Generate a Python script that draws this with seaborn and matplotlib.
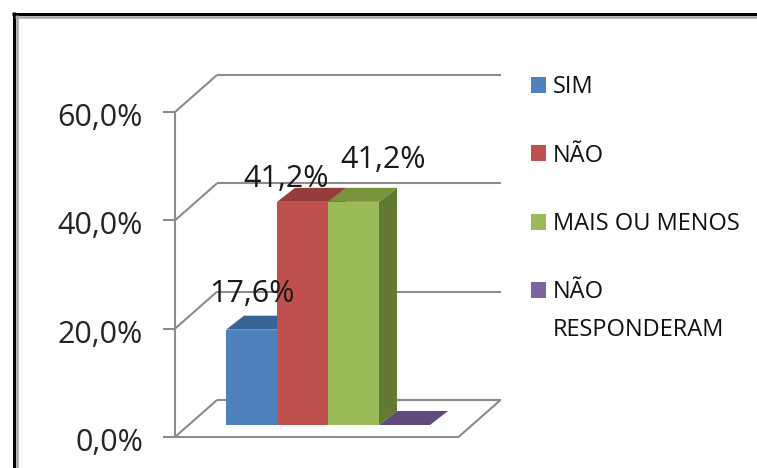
import textwrap

import matplotlib
matplotlib.use("Agg")
import matplotlib.pyplot as plt
import pandas as pd
import seaborn as sns
from matplotlib.lines import Line2D
from matplotlib.patches import Polygon, Rectangle
from matplotlib.transforms import IdentityTransform

# ---- data -------------------------------------------------------------
categories = ["SIM", "NÃO", "MAIS OU MENOS", "NÃO RESPONDERAM"]
shares = [0.176, 0.412, 0.412, 0.0]
value_labels = ["17,6%", "41,2%", "41,2%", ""]
y_ticks = [0.0, 0.2, 0.4, 0.6]
y_tick_labels = ["0,0%", "20,0%", "40,0%", "60,0%"]

# ---- styling ----------------------------------------------------------
front_colors = ["#4F81BD", "#C0504D", "#9BBB59", "#8064A2"]
top_colors = ["#3B6496", "#963D3B", "#77933C", "#5F4B7E"]
side_colors = ["#2F5079", "#7A302E", "#627A32", "#4C3C66"]
label_shift = [(0.5, 28), (-16.5, 15), (30, 34), (0, 0)]  # pixels (right, up)

W, H, DPI = 757, 468, 100
GRID = "#8c8c8c"
GRID_LW = 1.5

sns.set_theme(style="white")
plt.rcParams["font.family"] = ["Open Sans", "DejaVu Sans"]

fig = plt.figure(figsize=(W / DPI, H / DPI), dpi=DPI)
fig.patch.set_facecolor("white")

# axes holding the bar fronts (pixel box of the bar plane)
left_px, right_px, base_px, top_px = 188.5, 472.0, 425.0, 100.0
ax = fig.add_axes([left_px / W, (H - base_px) / H,
                   (right_px - left_px) / W, (base_px - top_px) / H])

df = pd.DataFrame({"resposta": categories, "percentual": shares})
sns.barplot(data=df, x="resposta", y="percentual", hue="resposta",
            palette=front_colors, saturation=1, width=1.0, legend=False,
            edgecolor="none", linewidth=0, ax=ax)

xmin = (left_px - 251.5) / 51.0
xmax = (right_px - 251.5) / 51.0
ax.set_xlim(xmin, xmax)
ax.set_ylim(0, 0.6)
ax.set_autoscale_on(False)
ax.axis("off")

ident = IdentityTransform()

# depth offsets in display pixels (x right, y up)
FRONT = (-13.5, -12.0)   # front edge of the floor / value axis plane
BACK = (28.5, 25.0)      # back wall plane
DEPTH = (18.0, 14.0)     # depth of each column


def px(x, y, off=(0.0, 0.0)):
    X, Y = ax.transData.transform((x, y))
    return X + off[0], Y + off[1]


def seg(p, q, color=GRID, lw=GRID_LW, z=1, host=None):
    line = Line2D([p[0], q[0]], [p[1], q[1]], color=color, lw=lw,
                  transform=ident, zorder=z, solid_capstyle="butt",
                  clip_on=False)
    if host is None:
        ax.add_artist(line)
    else:
        host.add_artist(line)


# walls: gridlines on the left and back walls, value axis with ticks
for t, lab in zip(y_ticks, y_tick_labels):
    f = px(xmin, t, FRONT)
    b = px(xmin, t, BACK)
    r = px(xmax, t, BACK)
    seg(f, b)
    seg(b, r)
    seg((f[0] - 12, f[1]), f)
    fig.text(f[0] - 32, f[1] - 14, lab, transform=ident, ha="right",
             va="baseline", fontsize=22, color="#262626")

seg(px(xmin, y_ticks[0], FRONT), px(xmin, y_ticks[-1], FRONT))
# floor outline
seg(px(xmin, 0, FRONT), px(xmax, 0, FRONT))
seg(px(xmax, 0, FRONT), px(xmax, 0, BACK))

# 3D faces for each column
for p in list(ax.patches):
    i = int(round(p.get_x() + p.get_width() / 2))
    x0, x1, h = p.get_x(), p.get_x() + p.get_width(), p.get_height()
    X0, Yh = px(x0, h)
    X1, _ = px(x1, h)
    _, Yb = px(x0, 0)
    dx, dy = DEPTH
    side = Polygon([(X1, Yb), (X1, Yh), (X1 + dx, Yh + dy), (X1 + dx, Yb + dy)],
                   closed=True, facecolor=side_colors[i], edgecolor="none",
                   transform=ident, zorder=2 + 2 * i, clip_on=False)
    top = Polygon([(X0, Yh), (X1, Yh), (X1 + dx, Yh + dy), (X0 + dx, Yh + dy)],
                  closed=True, facecolor=top_colors[i], edgecolor="none",
                  transform=ident, zorder=2 + 2 * i, clip_on=False)
    ax.add_artist(side)
    ax.add_artist(top)
    p.set_zorder(3 + 2 * i)
    p.set_clip_on(False)

# value labels
for i, (v, lab) in enumerate(zip(shares, value_labels)):
    if not lab:
        continue
    ax.annotate(lab, xy=(i, v), xytext=label_shift[i], textcoords="offset pixels",
                ha="center", va="baseline", fontsize=22, color="#1a1a1a",
                zorder=30, annotation_clip=False)

# legend
leg_x, leg_y0, leg_step, sq = 531, 84.5, 68.5, 16
for i, name in enumerate(categories):
    cy = H - (leg_y0 + i * leg_step)
    fig.add_artist(Rectangle((leg_x, cy - sq / 2), sq - 1, sq, transform=ident,
                             facecolor=front_colors[i], edgecolor="none"))
    for k, line in enumerate(textwrap.wrap(name, width=13)):
        fig.text(leg_x + 22, cy - 8.5 - 37 * k, line, transform=ident,
                 ha="left", va="baseline", fontsize=17, color="#111111")

# chart frame
seg((12, H - 13.5), (W, H - 13.5), color="black", lw=2.2, z=40, host=fig)
seg((13.5, H - 12), (13.5, 0), color="black", lw=2.2, z=40, host=fig)
seg((15, H - 16.5), (W, H - 16.5), color="#a6a6a6", lw=1.8, z=40, host=fig)
seg((16.5, H - 15), (16.5, 0), color="#a6a6a6", lw=1.8, z=40, host=fig)

fig.savefig("out.png", dpi=DPI, facecolor="white")
